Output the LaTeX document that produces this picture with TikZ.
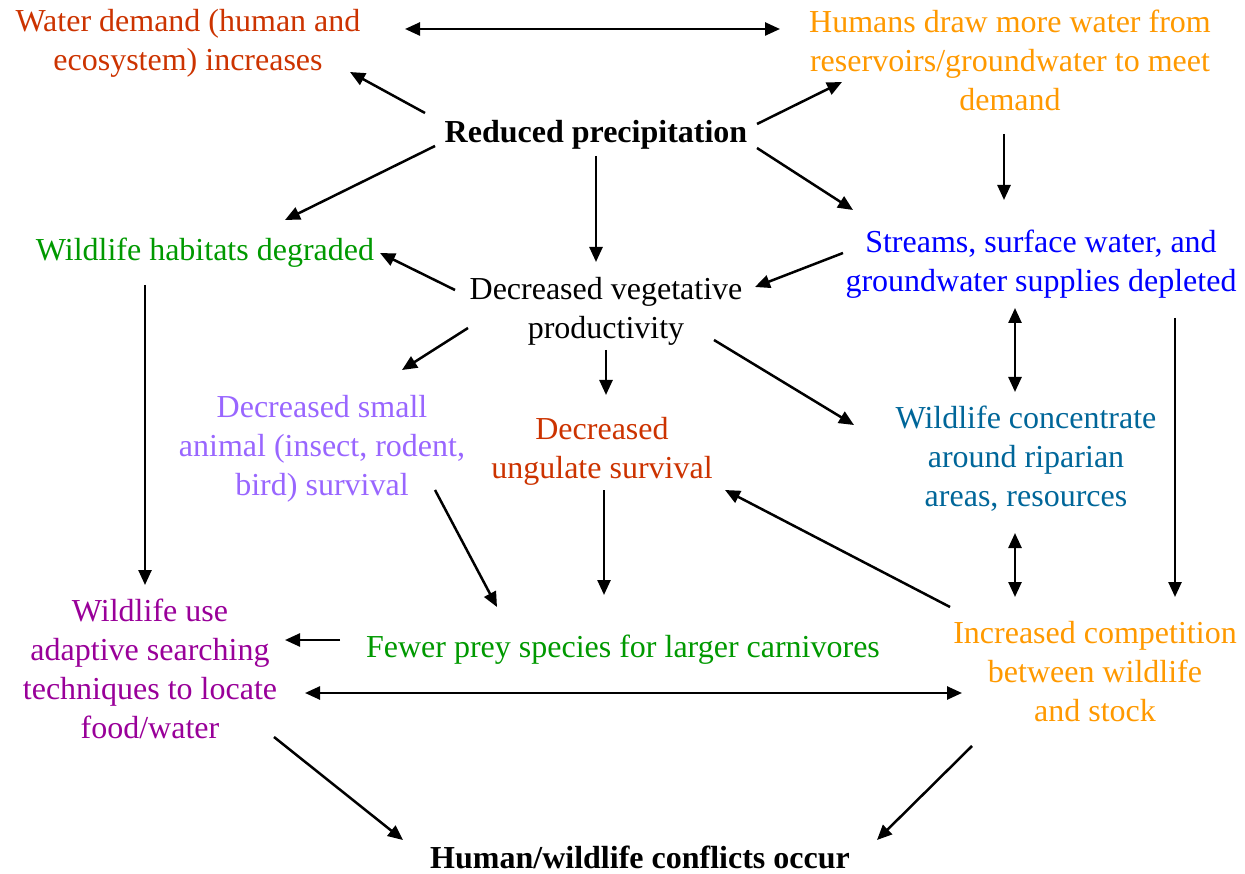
\documentclass[tikz,border=0pt]{standalone}
\usepackage{fontspec}
\setmainfont{Liberation Serif}
\usepackage{xcolor}
\usepackage{tikz}
\usetikzlibrary{arrows.meta,calc}
\definecolor{rust}{RGB}{204,51,0}
\definecolor{amber}{RGB}{255,153,0}
\definecolor{leaf}{RGB}{0,153,0}
\definecolor{lilac}{RGB}{153,102,255}
\definecolor{teal}{RGB}{0,102,153}
\definecolor{plum}{RGB}{153,0,153}
\newcommand{\tstrut}{\rule[-5.4pt]{0pt}{36.4pt}}

\begin{document}
\begin{tikzpicture}[x=1pt,y=-1pt,
  box/.style={align=center,inner sep=0pt,font=\fontsize{32}{39}\selectfont,
              execute at begin node=\tstrut,execute at end node=\tstrut},
  key/.style={box,font=\fontsize{32}{39}\selectfont\bfseries},
  arr/.style={line width=2.5pt,-{Triangle[length=15pt,width=13pt]}},
  both/.style={arr,{Triangle[length=15pt,width=13pt]}-{Triangle[length=15pt,width=13pt]}}
]
\useasboundingbox (0,0) rectangle (1245,874);

%% ── Top row ──────────────────────────────────────────────────────────────────
\node[box,text=rust]  (water)  at (188,43.5) {Water demand (human and\\ecosystem) increases};
\node[box,text=amber] (humans) at (1010,63)  {Humans draw more water from\\reservoirs/groundwater to meet\\demand};
\node[key]            (prec)   at (596,130)  {Reduced precipitation};

%% ── Second row ───────────────────────────────────────────────────────────────
\node[box,text=leaf]  (hab)    at (205,248)  {Wildlife habitats degraded};
\node[box]            (veg)    at (606,311)  {Decreased vegetative\\productivity};
\node[box,text=blue]  (stream) at (1041,264.5) {Streams, surface water, and\\groundwater supplies depleted};

%% ── Third row ────────────────────────────────────────────────────────────────
\node[box,text=lilac] (small)  at (322,449)  {Decreased small\\animal (insect, rodent,\\bird) survival};
\node[box,text=rust]  (ung)    at (602,451)  {Decreased\\ungulate survival};
\node[box,text=teal]  (conc)   at (1026,459) {Wildlife concentrate\\around riparian\\areas, resources};

%% ── Fourth row and sink ──────────────────────────────────────────────────────
\node[box,text=plum]  (adapt)  at (150,671)  {Wildlife use\\adaptive searching\\techniques to locate\\food/water};
\node[box,text=leaf]  (prey)   at (623,645)  {Fewer prey species for larger carnivores};
\node[box,text=amber] (comp)   at (1095,674) {Increased competition\\between wildlife\\and stock};
\node[key]            (confl)  at (640,856)  {Human/wildlife conflicts occur};

%% ── From precipitation ───────────────────────────────────────────────────────
\draw[both] ($(water)+(217,-14.5)$) -- ($(humans)+(-230,-34)$);
\draw[arr] ($(prec)+(-171,-17)$) -- ($(water)+(162,28.5)$);
\draw[arr] ($(prec)+(161,-6)$)   -- ($(humans)+(-168,19)$);
\draw[arr] ($(prec)+(-161,16)$)  -- ($(hab)+(80,-28)$);
\draw[arr] ($(prec)+(0,26)$)     -- ($(veg)+(-10,-49)$);
\draw[arr] ($(prec)+(161,18)$)   -- ($(stream)+(-188,-54.5)$);
\draw[arr] ($(humans)+(-6,71)$)  -- ($(stream)+(-37,-64.5)$);
\draw[arr] ($(stream)+(-198,-11.5)$) -- ($(veg)+(149,-24)$);

%% ── From vegetative productivity ─────────────────────────────────────────────
\draw[arr] ($(veg)+(-151,-21)$) -- ($(hab)+(175,5)$);
\draw[arr] ($(veg)+(-138,17)$)  -- ($(small)+(80,-79)$);
\draw[arr] ($(veg)+(0,39)$)     -- ($(ung)+(4,-56)$);
\draw[arr] ($(veg)+(108,29)$)   -- ($(conc)+(-172,-34)$);

%% ── Verticals on the sides ───────────────────────────────────────────────────
\draw[arr]  ($(hab)+(-60,37)$)      -- ($(adapt)+(-5,-86)$);
\draw[both] ($(stream)+(-26,43.5)$) -- ($(conc)+(-11,-67)$);
\draw[arr]  ($(stream)+(134,53.5)$) -- ($(comp)+(80,-77)$);
\draw[both] ($(conc)+(-11,74)$)     -- ($(comp)+(-80,-77)$);

%% ── Lower part ───────────────────────────────────────────────────────────────
\draw[arr]  ($(small)+(113,41)$)  -- ($(prey)+(-126,-38)$);
\draw[arr]  ($(ung)+(2,39)$)      -- ($(prey)+(-19,-50)$);
\draw[arr]  ($(comp)+(-145,-67)$) -- ($(ung)+(123,39)$);
\draw[arr]  ($(prey)+(-283,-5)$)  -- ($(adapt)+(135,-31)$);
\draw[both] ($(adapt)+(155,22)$)  -- ($(comp)+(-133,19)$);
\draw[arr]  ($(adapt)+(124,66)$)  -- ($(confl)+(-237,-16)$);
\draw[arr]  ($(comp)+(-123,72)$)  -- ($(confl)+(237,-16)$);
\end{tikzpicture}
\end{document}
